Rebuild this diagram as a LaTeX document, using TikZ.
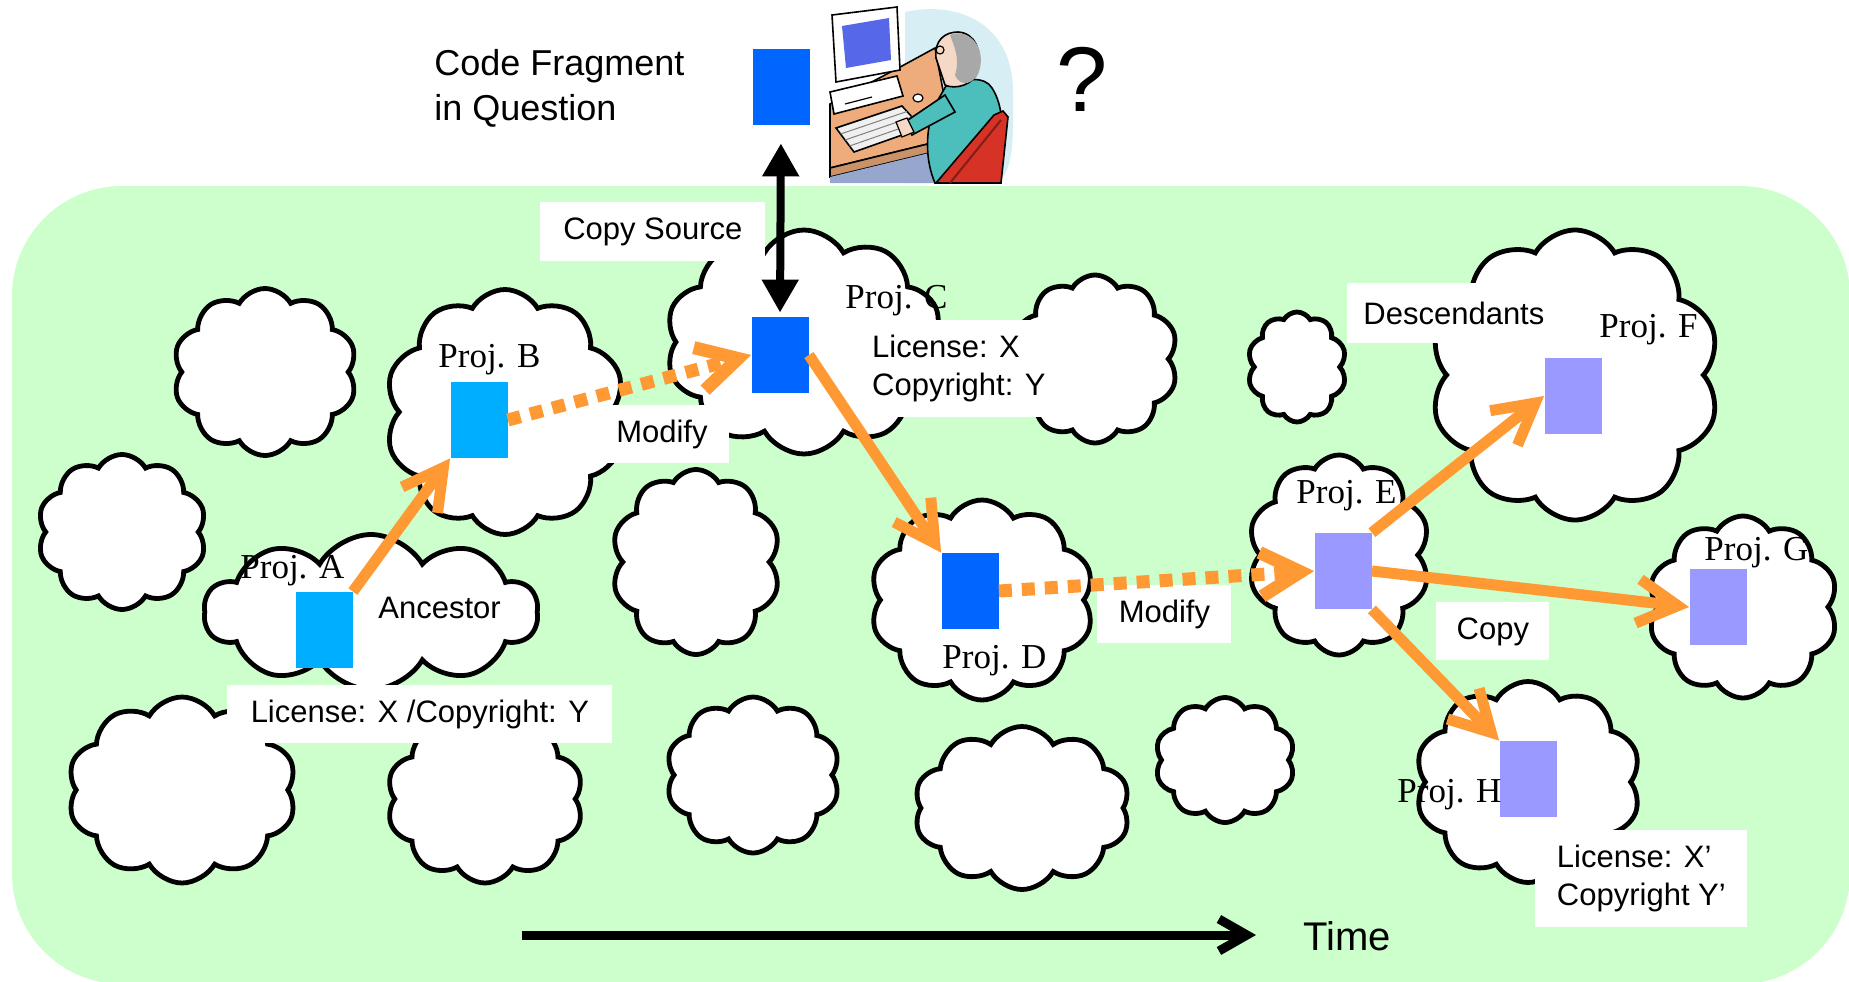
\documentclass[tikz,border=0pt]{standalone}
\usepackage{fontspec}
\setmainfont{Liberation Serif}
\setsansfont{Liberation Sans}
\usetikzlibrary{shapes.symbols, arrows.meta, positioning, calc}

\definecolor{meadow}{RGB}{204,255,204}
\definecolor{fragblue}{RGB}{0,102,255}
\definecolor{oldblue}{RGB}{0,174,255}
\definecolor{newblue}{RGB}{153,153,255}
\definecolor{flow}{RGB}{255,153,51}
\definecolor{haze}{RGB}{214,238,244}
\definecolor{desk}{RGB}{238,172,124}
\definecolor{floor}{RGB}{150,166,204}
\definecolor{screen}{RGB}{86,104,232}
\definecolor{shirt}{RGB}{76,190,188}
\definecolor{chair}{RGB}{214,50,38}
\definecolor{hair}{RGB}{168,168,168}
\definecolor{skin}{RGB}{246,216,198}

\begin{document}
\begin{tikzpicture}[x=0.5pt, y=-0.5pt,
    puff/.style={cloud, cloud puffs=10, cloud puff arc=120, cloud ignores aspect,
        draw=black, line width=2.4pt, fill=white, inner sep=0pt},
    frag/.style={rectangle, minimum width=28.5pt, minimum height=38pt, inner sep=0pt},
    tag/.style={fill=white, font=\sffamily\fontsize{15.5}{19}\selectfont, align=left,
        inner sep=0pt, anchor=north west},
    note/.style={font=\sffamily\fontsize{15.5}{19}\selectfont, inner sep=0pt, anchor=base west},
    proj/.style={font=\fontsize{17.5}{20}\selectfont, inner sep=0pt, anchor=base west},
    copyarrow/.style={draw=flow, line width=5.5pt, -{Straight Barb[length=20pt, width=22pt]}},
    modarrow/.style={copyarrow, line width=6.5pt, dash pattern=on 6.5pt off 5pt},
    pullarrow/.style={draw=black, line width=4pt,
        {Triangle[length=16.5pt, width=17.5pt]}-{Triangle[length=16.5pt, width=17.5pt]}},
    timeline/.style={draw=black, line width=4.5pt, -{Straight Barb[length=14pt, width=16pt]}}]

    \useasboundingbox (0,0) rectangle (1849,981);

    % Ecosystem of projects
    \fill[meadow, rounded corners=55pt] (12,186) rectangle (1850,984);

    % Clouds (projects)
    \foreach \n/\cx/\cy/\w/\h in {
        cA/371/612/334/155, cB/505/412/240/245, cC/804/342/277/224, cD/982/600/224/200,
        cE/1339/555/182/200, cF/1575/375/290/290, cG/1743/607/190/182, cH/1528/782/226/201,
        e1/265/372/184/167, e2/122/532/169/155, e3/696/562/169/185, e4/1095/359/166/168,
        e5/1297/367/99/110, e6/182/790/229/186, e7/485/799/197/168, e8/753/775/174/156,
        e9/1022/808/216/163, e10/1225/760/140/125}
        \node[puff, minimum width=\w*0.5pt, minimum height=\h*0.5pt] (\n) at (\cx,\cy) {};

    % Label boxes
    \node[tag, minimum width=112.5pt, minimum height=29.5pt] (srcTag) at (540,202) {Copy Source};
    \node[tag, minimum width=67.5pt, minimum height=29pt] (modTagB) at (594,405) {Modify};
    \node[tag, minimum width=192.5pt, minimum height=29pt] (licTagA) at (227,685) {License: X /Copyright: Y};
    \node[tag, minimum width=101.5pt, minimum height=48.5pt] (licTagC) at (857,320) {License: X\\Copyright: Y};
    \node[tag, minimum width=67pt, minimum height=29pt] (modTagD) at (1097,585) {Modify};
    \node[tag, minimum width=56.5pt, minimum height=29pt] (copyTag) at (1436,602) {Copy};
    \node[tag, minimum width=106.5pt, minimum height=30pt] (descTag) at (1347,283) {Descendants};
    \node[tag, minimum width=106pt, minimum height=48.5pt] (licTagH) at (1535,830) {License: X’\\Copyright Y’};
    \node[note] (ancestor) at (378,618) {Ancestor};

    % Code fragments
    \node[frag, fill=fragblue] (fragQ) at (781,87) {};
    \node[frag, fill=oldblue] (fragA) at (324,630) {};
    \node[frag, fill=oldblue] (fragB) at (479,420) {};
    \node[frag, fill=fragblue] (fragC) at (780,355) {};
    \node[frag, fill=fragblue] (fragD) at (970,591) {};
    \node[frag, fill=newblue] (fragE) at (1343,571) {};
    \node[frag, fill=newblue] (fragF) at (1573,396) {};
    \node[frag, fill=newblue] (fragG) at (1718,607) {};
    \node[frag, fill=newblue] (fragH) at (1528,779) {};

    % Project names
    \node[proj] (projA) at (240,578) {Proj. A};
    \node[proj] (projB) at (438,367) {Proj. B};
    \node[proj] (projC) at (845,308) {Proj. C};
    \node[proj] (projD) at (942,668) {Proj. D};
    \node[proj] (projE) at (1296,503) {Proj. E};
    \node[proj] (projF) at (1599,337) {Proj. F};
    \node[proj] (projG) at (1704,560) {Proj. G};
    \node[proj] (projH) at (1397,802) {Proj. H};

    % Question
    \node[font=\sffamily\fontsize{18}{22.5}\selectfont, align=left, inner sep=0pt, anchor=west]
        (question) at (434,88) {Code Fragment\\in Question};
    \node[font=\sffamily\fontsize{46}{50}\selectfont, inner sep=0pt, anchor=base west]
        (qmark) at (1056,111) {?};

    % Person at the computer
    \fill[haze] (905,12) .. controls (960,0) and (1012,25) .. (1013,90)
        .. controls (1014,150) and (1012,183) .. (990,183) -- (905,183) -- cycle;
    \filldraw[fill=desk, draw=black, line width=0.8pt] (830,104) -- (902,66) -- (935,48) -- (952,138) -- (830,168) -- cycle;
    \filldraw[fill=desk!85!black, draw=black, line width=0.8pt] (830,168) -- (952,138) -- (954,147) -- (830,177) -- cycle;
    \fill[floor] (830,177) -- (954,147) -- (958,183) -- (830,183) -- cycle;
    \filldraw[fill=white, draw=black, line width=0.8pt] (830,92) -- (897,76) -- (903,96) -- (834,114) -- cycle;
    \draw[line width=0.6pt] (845,104) -- (872,97);
    \filldraw[fill=white, draw=black, line width=0.8pt] (832,15) -- (897,7) -- (900,70) -- (836,82) -- cycle;
    \fill[screen] (842,26) -- (889,18) -- (891,60) -- (846,68) -- cycle;
    \filldraw[fill=gray!12, draw=black, line width=0.8pt] (836,128) -- (902,106) -- (922,128) -- (854,152) -- cycle;
    \foreach \k in {0.25,0.5,0.75}
        \draw[gray, line width=0.5pt] ($(836,128)!\k!(854,152)$) -- ($(902,106)!\k!(922,128)$);
    \filldraw[fill=white, draw=black, line width=0.6pt] (918,98) ellipse (5 and 4);
    \filldraw[fill=shirt, draw=black, line width=0.8pt] (946,86) .. controls (965,78) and (985,76) .. (992,88)
        .. controls (1003,105) and (1004,130) .. (998,150) -- (975,183) -- (935,183)
        .. controls (925,160) and (925,130) .. (935,105) -- cycle;
    \filldraw[fill=shirt, draw=black, line width=0.8pt] (945,95) -- (905,122) -- (912,135) -- (955,112) -- cycle;
    \filldraw[fill=skin, draw=black, line width=0.6pt] (896,122) -- (907,118) -- (914,132) -- (902,137) -- cycle;
    \filldraw[fill=chair, draw=black, line width=0.8pt] (936,183) -- (994,115) -- (1003,111) -- (1008,117) -- (1001,183) -- cycle;
    \draw[chair!60!black, line width=1pt] (950,183) -- (1001,120);
    \filldraw[fill=skin, draw=black, line width=0.8pt] (936,58) .. controls (934,40) and (945,32) .. (958,32)
        .. controls (975,33) and (982,50) .. (978,70) .. controls (975,85) and (955,90) .. (945,85) -- cycle;
    \fill[hair] (950,35) .. controls (968,28) and (985,45) .. (980,68)
        .. controls (976,85) and (960,88) .. (955,75) .. controls (960,60) and (955,48) .. (950,35) -- cycle;
    \draw[line width=0.6pt] (940,50) circle (4);

    % Arrows
    \draw[pullarrow, shorten <=9pt, shorten >=2pt] (fragQ.south) -- (fragC.north);
    \draw[copyarrow] (fragA.north east) -- (fragB.south west);
    \draw[modarrow] (fragB.east) -- (fragC.west);
    \draw[copyarrow] (fragC.east) -- (fragD.north west);
    \draw[modarrow] (fragD.east) -- (fragE.west);
    \draw[copyarrow] (fragE.north east) -- (fragF.west);
    \draw[copyarrow] (fragE.east) -- (fragG.west);
    \draw[copyarrow] (fragE.south east) -- (fragH.north west);

    % Time axis
    \node[font=\sffamily\fontsize{20}{24}\selectfont, inner sep=0pt, anchor=base west] (time) at (1303,950) {Time};
    \coordinate (tStart) at (522,935);
    \draw[timeline, shorten >=23.5pt] (tStart) -- (tStart -| time.west);
\end{tikzpicture}
\end{document}
